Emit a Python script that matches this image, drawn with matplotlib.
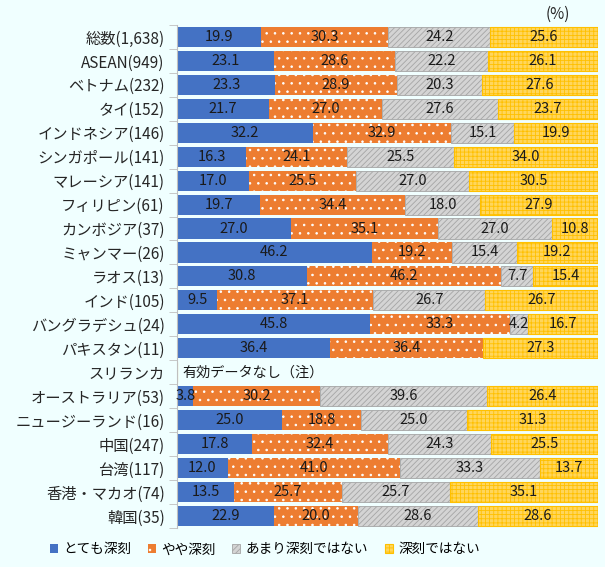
import numpy as np
import matplotlib
import matplotlib.pyplot as plt
from matplotlib.patches import Patch

matplotlib.use("agg")

plt.rcParams["font.family"] = ["Noto Sans CJK JP", "DejaVu Sans"]
plt.rcParams["hatch.linewidth"] = 0.6

categories = [
    "総数(1,638)", "ASEAN(949)", "ベトナム(232)", "タイ(152)", "インドネシア(146)",
    "シンガポール(141)", "マレーシア(141)", "フィリピン(61)", "カンボジア(37)",
    "ミャンマー(26)", "ラオス(13)", "インド(105)", "バングラデシュ(24)",
    "パキスタン(11)", "スリランカ", "オーストラリア(53)", "ニュージーランド(16)",
    "中国(247)", "台湾(117)", "香港・マカオ(74)", "韓国(35)",
]
very_serious = [19.9, 23.1, 23.3, 21.7, 32.2, 16.3, 17.0, 19.7, 27.0, 46.2, 30.8,
                9.5, 45.8, 36.4, 0, 3.8, 25.0, 17.8, 12.0, 13.5, 22.9]
somewhat_serious = [30.3, 28.6, 28.9, 27.0, 32.9, 24.1, 25.5, 34.4, 35.1, 19.2, 46.2,
                    37.1, 33.3, 36.4, 0, 30.2, 18.8, 32.4, 41.0, 25.7, 20.0]
not_very_serious = [24.2, 22.2, 20.3, 27.6, 15.1, 25.5, 27.0, 18.0, 27.0, 15.4, 7.7,
                    26.7, 4.2, 0, 0, 39.6, 25.0, 24.3, 33.3, 25.7, 28.6]
not_serious = [25.6, 26.1, 27.6, 23.7, 19.9, 34.0, 30.5, 27.9, 10.8, 19.2, 15.4,
               26.7, 16.7, 27.3, 0, 26.4, 31.3, 25.5, 13.7, 35.1, 28.6]
series_names = ["とても深刻", "やや深刻", "あまり深刻ではない", "深刻ではない"]
no_data_row = "スリランカ"
no_data_text = "有効データなし（注）"

bg = "#F0FFFF"
styles = [
    dict(facecolor="#4472C4", edgecolor="#4472C4", hatch=None, linewidth=0),
    dict(facecolor="#ED7D31", edgecolor="white", hatch="..", linewidth=0),
    dict(facecolor="#D4D4D4", edgecolor="#A5A5A5", hatch="//////", linewidth=0.6),
    dict(facecolor="#FFD65C", edgecolor="#FFC000", hatch="++++", linewidth=0.8),
]

fig = plt.figure(figsize=(6.05, 5.67), dpi=100, facecolor=bg)
ax = fig.add_axes([0.293, 0.069, 0.695, 0.887], facecolor=bg)

y = np.arange(len(categories))
series = [very_serious, somewhat_serious, not_very_serious, not_serious]
left = np.zeros(len(categories))
for vals, st in zip(series, styles):
    vals = np.array(vals)
    ax.barh(y, vals, left=left, height=0.84, **st)
    for yi, (l, v) in enumerate(zip(left, vals)):
        if v > 0:
            ax.text(l + v / 2, yi, f"{v:.1f}", ha="center", va="center",
                    fontsize=10.5, color="#1a1a1a")
    left += vals

ny = categories.index(no_data_row)
ax.text(1.2, ny, no_data_text, ha="left", va="center", fontsize=10.2, color="#1a1a1a")

ax.set_xlim(0, 100)
ax.set_ylim(len(categories) - 0.5, -0.5)
ax.set_yticks(y)
ax.set_yticklabels(categories, fontsize=11, color="#262626")
ax.set_yticks(np.arange(len(categories) + 1) - 0.5, minor=True)
ax.tick_params(axis="y", which="major", length=0, pad=9)
ax.tick_params(axis="y", which="minor", length=6, color="#BFBFBF")
ax.xaxis.set_visible(False)
for s in ["top", "right", "bottom"]:
    ax.spines[s].set_visible(False)
ax.spines["left"].set_color("#BFBFBF")

fig.text(0.922, 0.975, "(%)", ha="center", va="center", fontsize=11, color="#262626")

handles = [Patch(label=n, **st) for n, st in zip(series_names, styles)]
fig.legend(handles=handles, loc="center", bbox_to_anchor=(0.438, 0.031), ncol=4,
           frameon=False, fontsize=9.8, handlelength=0.6, handleheight=0.6,
           handletextpad=0.4, columnspacing=1.2)

fig.savefig("out.png", dpi=100, facecolor=bg)
